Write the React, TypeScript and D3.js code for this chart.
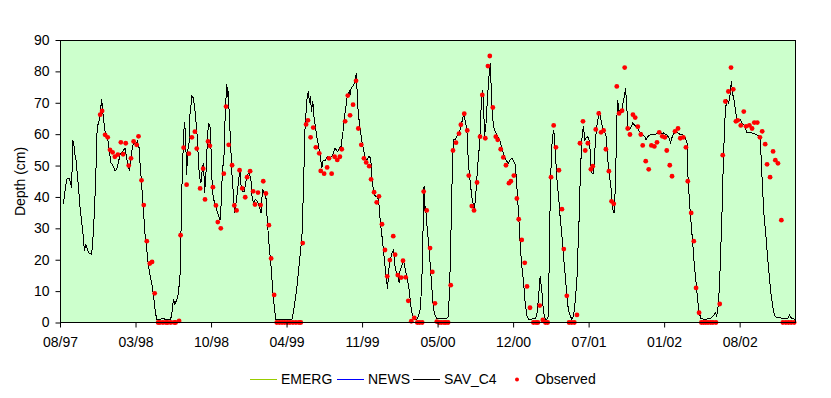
import React, { useEffect, useRef } from "react";
import * as d3 from "d3";

// days counted from the first axis tick (27 Aug 1997)
const START = new Date(Date.UTC(1997, 7, 27));
const END_DAY = 1959;
const TICK_STEP_DAYS = 201;
const TICK_COUNT = 10;
const DEPTH_TICKS = [0, 10, 20, 30, 40, 50, 60, 70, 80, 90];

const SERIES_NAMES = ["EMERG", "NEWS", "SAV_C4"];
const SERIES_COLORS = ["#99cc00", "#0000ff", "#000000"];

// modelled depth (cm) - EMERG and NEWS lie under SAV_C4 in the picture
const SAV_C4: [number, number][] = [
  [9, 37.9], [15, 43.4], [18, 45.7], [24, 46], [28, 44.5], [31, 42.9], [34, 58.2], [37, 56.6],
  [39, 54], [43, 51.4], [49, 43.4], [53, 37], [58, 31.8], [62, 27.5], [65, 22.8], [69, 24.9],
  [73, 23.3], [78, 22], [84, 21.7], [87, 25.4], [91, 33.9], [95, 45.5], [99, 62.5], [103, 63.5],
  [107, 66.7], [111, 71.2], [115, 65.6], [120, 60.9], [124, 59.8], [129, 57.2], [133, 53],
  [136, 50.8], [142, 49.8], [146, 48.5], [151, 48.7], [155, 50.8], [160, 53.5], [167, 54.5],
  [173, 55.6], [179, 51.4], [185, 48.2], [188, 51.9], [193, 56.1], [197, 57.2], [202, 56.6],
  [206, 57.7], [209, 56.1], [211, 55.6], [213, 50.8], [217, 44.5], [222, 36], [226, 28.6],
  [231, 23.3], [235, 18.5], [240, 14.8], [244, 12.7], [249, 8.5], [253, 4.2], [257, 1.1],
  [266, 1], [275, 1.3], [284, 0.8], [293, 0.8], [297, 2.1], [302, 7.4], [306, 5.8], [311, 7.4],
  [315, 9], [320, 15.9], [324, 41.3], [328, 56.1], [331, 64], [334, 60.4], [337, 47.1], [340, 55],
  [343, 56], [346, 66.2], [351, 72], [355, 71.5], [359, 67.8], [364, 61.4], [368, 53], [371, 46.6],
  [375, 44.5], [379, 49.2], [382, 50.8], [385, 41.3], [389, 48.7], [392, 57.2], [395, 63.5],
  [399, 63], [402, 55], [405, 44], [408, 39.7], [413, 37.6], [417, 36], [422, 33.9], [426, 32.8],
  [429, 38], [432, 47.6], [437, 54], [440, 67.8], [444, 76], [446, 72], [448, 73.6], [451, 64.6],
  [454, 57.2], [458, 46.6], [462, 40.2], [465, 34.9], [468, 37.6], [472, 41.3], [476, 46],
  [479, 48.7], [482, 43.4], [486, 41.8], [491, 41.8], [494, 44.5], [499, 47.1], [503, 47.6],
  [508, 46], [511, 40.2], [515, 38], [520, 39.2], [525, 38.6], [529, 37.6], [535, 34.9],
  [539, 42.4], [543, 41.3], [548, 40.2], [551, 33.9], [556, 25.4], [561, 19], [566, 10.6],
  [571, 4.2], [575, 0.8], [590, 0.8], [605, 0.8], [617, 0.8], [621, 3.2], [630, 10.6], [637, 19],
  [644, 27.5], [648, 42.4], [652, 61.4], [657, 70.9], [661, 73.6], [664, 69.9], [667, 72],
  [669, 67.2], [673, 70.4], [676, 65.6], [681, 61.4], [685, 58.2], [690, 55], [697, 49.2],
  [699, 51.4], [706, 51.6], [712, 52.9], [717, 52.4], [723, 52.9], [728, 54], [732, 55.6],
  [735, 55], [739, 54.5], [744, 55.6], [748, 56.1], [753, 60.4], [756, 64.6], [761, 68.8],
  [765, 72.5], [770, 73.6], [772, 72.5], [775, 74.6], [779, 75.2], [783, 76.2], [786, 77.8],
  [789, 79.4], [792, 69.9], [795, 65.6], [799, 61.4], [803, 58.2], [808, 55], [812, 52.4],
  [817, 51.9], [822, 52.9], [827, 52.4], [830, 46.6], [834, 42.4], [839, 40.2], [843, 40.2],
  [848, 39.2], [852, 32.8], [857, 27.5], [861, 22.8], [865, 18], [870, 12.7], [872, 10.6],
  [875, 16.9], [879, 20.1], [884, 22.2], [888, 23.3], [890, 19], [895, 15.9], [899, 14.8],
  [903, 12.7], [905, 16.4], [910, 18], [914, 20.1], [919, 16.9], [923, 14.8], [928, 11.6],
  [932, 7.4], [936, 3.2], [941, 1.6], [945, 1], [950, 1], [954, 2.1], [959, 4.2], [963, 12.7],
  [966, 27.5], [968, 40.2], [969, 43.4], [970, 35.5], [973, 37], [976, 31.8], [981, 25.4],
  [985, 19], [990, 10.6], [994, 4.2], [999, 2.1], [1003, 1.3], [1012, 1.1], [1021, 1.3],
  [1030, 1.3], [1034, 2.1], [1039, 19], [1043, 42.4], [1047, 58.2], [1052, 58.2], [1056, 59.3],
  [1061, 60.4], [1065, 61.4], [1070, 64], [1074, 66.2], [1078, 64.6], [1083, 61.4], [1087, 50.8],
  [1092, 44.5], [1096, 40.2], [1101, 37], [1103, 36], [1107, 41.3], [1111, 48.7], [1117, 57.2],
  [1121, 68.8], [1125, 74.1], [1127, 70.9], [1130, 59.3], [1134, 63.5], [1138, 72], [1141, 77.3],
  [1145, 82.6], [1148, 74.1], [1151, 65.6], [1156, 61.4], [1160, 60.4], [1165, 59.3],
  [1170, 58.2], [1174, 56.6], [1179, 54.5], [1183, 52.9], [1188, 51.4], [1194, 50.8],
  [1198, 51.9], [1203, 52.4], [1207, 51.4], [1212, 50.3], [1216, 43.4], [1221, 33.9],
  [1225, 24.4], [1229, 18], [1234, 12.7], [1238, 6.4], [1243, 2.1], [1247, 1.1], [1256, 1.1],
  [1265, 1.3], [1269, 2.1], [1274, 8.5], [1278, 14.8], [1283, 9.5], [1287, 3.2], [1292, 1.1],
  [1296, 1], [1300, 2.1], [1303, 27.5], [1306, 46.6], [1310, 58.2], [1314, 61.4], [1316, 59.3],
  [1319, 53], [1322, 46.6], [1327, 40.2], [1331, 33.9], [1336, 27.5], [1340, 21.2], [1345, 14.8],
  [1349, 8.5], [1353, 4.2], [1358, 2.1], [1362, 1.1], [1367, 2.1], [1371, 6.4], [1376, 13.8],
  [1378, 21.2], [1382, 33.9], [1385, 47.6], [1389, 58.2], [1393, 62.5], [1397, 58.2],
  [1400, 58.8], [1404, 59.3], [1408, 58.2], [1411, 55], [1414, 48.7], [1416, 47.6], [1420, 47.6],
  [1423, 53], [1425, 58.2], [1429, 62.5], [1433, 65.6], [1436, 66.7], [1440, 64.6], [1444, 61.9],
  [1448, 61.4], [1454, 59.3], [1457, 53], [1461, 48.7], [1464, 45.5], [1468, 41.3], [1471, 36],
  [1475, 34.9], [1479, 45.5], [1481, 60.4], [1484, 70.9], [1487, 68.8], [1488, 66.7],
  [1491, 67.8], [1494, 66.7], [1497, 68.8], [1500, 70.9], [1503, 72.5], [1505, 74.6], [1507, 72],
  [1510, 65.6], [1512, 61.4], [1516, 61.4], [1519, 61.9], [1524, 63.5], [1528, 63], [1533, 62.5],
  [1537, 62], [1542, 60.9], [1547, 60.4], [1551, 59.8], [1556, 59.3], [1560, 58.2], [1565, 59.3],
  [1571, 59.8], [1580, 59.8], [1589, 60.1], [1598, 60.1], [1606, 60.4], [1615, 59.8],
  [1621, 58.8], [1625, 57.4], [1630, 59.3], [1635, 60.4], [1640, 61], [1645, 60.4], [1651, 59.8],
  [1658, 59.8], [1664, 59.1], [1669, 57.2], [1671, 47.6], [1675, 39.2], [1679, 32.8],
  [1684, 25.4], [1688, 19], [1693, 12.7], [1697, 7.4], [1701, 3.2], [1706, 1.3], [1713, 1.1],
  [1722, 1.1], [1731, 1.3], [1735, 1.6], [1740, 2.3], [1744, 3.2], [1748, 2.1], [1753, 6.4],
  [1757, 16.9], [1762, 34.9], [1766, 53], [1771, 67.8], [1775, 70.9], [1780, 69.9], [1784, 73],
  [1787, 76.8], [1791, 72.5], [1795, 70.4], [1798, 67.2], [1802, 64.6], [1806, 64], [1811, 64.6],
  [1815, 63.7], [1819, 63], [1824, 62.5], [1828, 60.4], [1833, 60.4], [1842, 60.4], [1850, 60.1],
  [1855, 59.8], [1859, 59.5], [1864, 58.2], [1866, 53], [1870, 42.4], [1874, 33.9], [1879, 27.5],
  [1883, 21.2], [1888, 14.8], [1892, 9.5], [1897, 5.3], [1901, 2.6], [1906, 1.6], [1913, 1.6],
  [1922, 1.3], [1930, 1.3], [1937, 1.3], [1942, 2.3], [1945, 1.5], [1951, 1.3], [1957, 0.8],
];

// field measurements (cm)
const OBSERVED: [number, number][] = [
  [107, 66.2], [112, 67.4], [120, 59.8], [127, 59], [133, 55], [140, 54.2], [146, 52.8],
  [154, 53.5], [162, 57.4], [168, 53.6], [175, 57.1], [183, 50], [189, 52.3], [196, 57.7],
  [204, 56.6], [209, 59.3], [217, 45.3], [223, 37.4], [231, 25.9], [239, 18.8], [245, 19.3],
  [252, 9.3], [261, 0], [266, 0], [274, 0], [282, 0], [287, 0], [295, 0], [304, 0], [308, 0],
  [317, 0.5], [321, 27.8], [329, 55.7], [337, 43.9], [343, 53.8], [351, 59], [359, 60.8],
  [364, 55.4], [373, 42.7], [381, 49], [386, 39.2], [394, 57.7], [399, 56.3], [407, 43.1],
  [415, 37.3], [420, 32], [428, 30], [436, 47.4], [442, 68.8], [449, 56.6], [458, 50.1],
  [464, 37.3], [470, 35.7], [478, 48.5], [485, 42.7], [493, 39.9], [498, 46.3], [506, 48.2],
  [514, 41.8], [519, 37.6], [527, 41.4], [534, 37.4], [541, 45], [548, 41.1], [556, 31],
  [562, 20.4], [570, 8.8], [577, 0], [584, 0], [591, 0], [598, 0], [605, 0], [612, 0], [620, 0],
  [628, 0], [636, 0], [641, 0], [646, 25.3], [655, 63.1], [660, 64.4], [667, 59], [674, 62.1],
  [681, 55.8], [690, 53.9], [694, 48.3], [703, 47.4], [711, 49.4], [716, 52.3], [723, 47.4],
  [731, 52.8], [738, 51.8], [745, 52.8], [750, 55.2], [759, 64.1], [766, 72.3], [772, 66],
  [780, 69.4], [788, 77], [794, 61.8], [802, 56.6], [809, 52.3], [815, 51], [823, 49.8],
  [828, 45.6], [836, 41.5], [843, 38.3], [849, 40.2], [857, 31.3], [865, 23.1], [871, 14.7],
  [878, 19.9], [887, 27.5], [892, 21.6], [899, 15.1], [908, 14.3], [913, 19.7], [920, 14.4],
  [927, 6.9], [935, 0.4], [943, 1.5], [951, 0], [957, 0], [964, 0], [968, 41.7], [976, 35.7],
  [985, 23.7], [991, 16.1], [998, 6.1], [1003, 0.3], [1009, 0], [1015, 0], [1022, 0], [1027, 0],
  [1033, 0], [1040, 11.9], [1046, 54.8], [1054, 57.3], [1062, 60.2], [1067, 63], [1076, 66.5],
  [1084, 61.2], [1088, 46.8], [1096, 37.1], [1102, 35.7], [1110, 44.6], [1118, 59.2],
  [1124, 72.5], [1132, 58.7], [1139, 81.7], [1144, 84.9], [1152, 68.5], [1160, 59.2],
  [1165, 58.2], [1173, 55.2], [1180, 52.6], [1187, 50.1], [1195, 44.4], [1200, 45], [1208, 46.8],
  [1216, 39.5], [1221, 32.9], [1229, 26.3], [1237, 19], [1243, 11.5], [1251, 4.7], [1260, 0],
  [1267, 0], [1272, 0], [1277, 5.4], [1285, 0.8], [1292, 0], [1298, 0], [1307, 46.3],
  [1314, 62.8], [1320, 55.8], [1328, 48.5], [1336, 36.1], [1341, 23.4], [1349, 8.5], [1355, 0],
  [1362, 0], [1369, 0], [1376, 2.4], [1384, 57.1], [1392, 64.1], [1398, 54.8], [1405, 57.1],
  [1413, 48.8], [1418, 49.8], [1426, 61.5], [1434, 66.6], [1440, 60.6], [1447, 61.2],
  [1453, 55.2], [1461, 48.2], [1468, 38.6], [1474, 37.8], [1482, 75.2], [1488, 66.6],
  [1496, 67.5], [1503, 81.2], [1511, 61.8], [1517, 59.9], [1525, 66.2], [1531, 65.3],
  [1538, 62.4], [1546, 59.9], [1551, 56.4], [1559, 51.4], [1567, 48.8], [1574, 56.4],
  [1582, 56.1], [1589, 57.4], [1595, 60.6], [1603, 59.3], [1610, 59], [1615, 54.8], [1623, 50.1],
  [1629, 46.6], [1637, 60.9], [1645, 61.8], [1651, 58.7], [1659, 59], [1666, 55.8], [1671, 45],
  [1680, 34.9], [1687, 25.9], [1693, 11], [1701, 3.1], [1707, 0], [1713, 0], [1719, 0],
  [1725, 0], [1732, 0], [1738, 0], [1746, 0], [1756, 5.9], [1764, 53.3], [1771, 70.4],
  [1779, 73.6], [1786, 81.2], [1792, 74.3], [1799, 64.1], [1804, 64.4], [1812, 62.8],
  [1820, 67.2], [1826, 62.5], [1835, 62.8], [1842, 61.8], [1848, 63.7], [1856, 63.7], [1863, 59],
  [1869, 60.9], [1877, 56.8], [1882, 50.4], [1890, 46.3], [1898, 54.5], [1904, 51.7],
  [1911, 50.7], [1920, 32.6], [1924, 0], [1932, 0], [1939, 0], [1946, 0], [1954, 0],
];

const FONT = "'Liberation Sans', Arial, sans-serif";

export default function App() {
  const ref = useRef<SVGSVGElement>(null);
  const width = 831;
  const height = 398;

  useEffect(() => {
    const margin = { top: 40, right: 35, bottom: 75, left: 60 };
    const svg = d3.select(ref.current).attr("width", width).attr("height", height);
    svg.selectAll("*").remove();

    const day = (d: number) => d3.utcDay.offset(START, d);

    const x = d3
      .scaleUtc()
      .domain([START, day(END_DAY)])
      .range([margin.left, width - margin.right]);

    const y = d3
      .scaleLinear()
      .domain([0, 90])
      .range([height - margin.bottom - 0.5, margin.top]);

    const innerW = width - margin.left - margin.right;
    const innerH = height - margin.bottom - margin.top;

    // plot background
    svg
      .append("rect")
      .attr("x", margin.left)
      .attr("y", margin.top)
      .attr("width", innerW)
      .attr("height", innerH)
      .attr("fill", "#ccffcc");

    const line = d3
      .line<[number, number]>()
      .x((d) => x(day(d[0])))
      .y((d) => y(d[1]));

    // EMERG / NEWS / SAV_C4 overlap, black one drawn last
    SERIES_NAMES.forEach((name, i) => {
      svg
        .append("path")
        .datum(SAV_C4)
        .attr("class", name)
        .attr("d", line)
        .attr("fill", "none")
        .attr("stroke", SERIES_COLORS[i])
        .attr("stroke-width", 1)
        .attr("shape-rendering", "crispEdges");
    });

    // observed points
    svg
      .selectAll(".obs")
      .data(OBSERVED)
      .join("circle")
      .attr("class", "obs")
      .attr("cx", (d) => x(day(d[0])))
      .attr("cy", (d) => y(d[1]))
      .attr("r", 2.4)
      .attr("fill", "#ff0000");

    // border of the plot area
    svg
      .append("rect")
      .attr("x", margin.left + 0.5)
      .attr("y", margin.top + 0.5)
      .attr("width", innerW - 1)
      .attr("height", innerH - 1)
      .attr("fill", "none")
      .attr("stroke", "#000");

    // axes
    const xTicks = d3.range(TICK_COUNT).map((i) => day(i * TICK_STEP_DAYS));
    const xAxis = svg
      .append("g")
      .attr("transform", `translate(0,${height - margin.bottom - 0.5})`)
      .call(
        d3
          .axisBottom(x)
          .tickValues(xTicks)
          .tickFormat((d) => d3.utcFormat("%m/%y")(d as Date))
          .tickSize(5)
          .tickPadding(10)
      );

    const yAxis = svg
      .append("g")
      .attr("transform", `translate(${margin.left + 0.5},0)`)
      .call(d3.axisLeft(y).tickValues(DEPTH_TICKS).tickSize(5).tickPadding(6));

    [xAxis, yAxis].forEach((g) => {
      g.select(".domain").remove();
      g.selectAll("line").attr("stroke", "#000");
      g.selectAll("text")
        .attr("fill", "#000")
        .attr("font-family", FONT)
        .attr("font-size", "14px");
    });

    // axis title
    svg
      .append("text")
      .attr("transform", `translate(25, ${(margin.top + height - margin.bottom) / 2}) rotate(-90)`)
      .attr("text-anchor", "middle")
      .attr("font-family", FONT)
      .attr("font-size", "14px")
      .attr("fill", "#000")
      .text("Depth (cm)");

    // legend
    const lg = svg.append("g").attr("transform", "translate(250,379)");
    const lineStarts = [0, 87, 163];
    SERIES_NAMES.forEach((name, i) => {
      lg.append("line")
        .attr("x1", lineStarts[i])
        .attr("x2", lineStarts[i] + 27)
        .attr("y1", 0.5)
        .attr("y2", 0.5)
        .attr("stroke", SERIES_COLORS[i])
        .attr("stroke-width", 1);
      lg.append("text")
        .attr("x", lineStarts[i] + 31)
        .attr("y", 5)
        .attr("font-family", FONT)
        .attr("font-size", "14px")
        .attr("fill", "#000")
        .text(name);
    });
    lg.append("circle").attr("cx", 267).attr("cy", 0.5).attr("r", 2).attr("fill", "#ff0000");
    lg.append("text")
      .attr("x", 285)
      .attr("y", 5)
      .attr("font-family", FONT)
      .attr("font-size", "14px")
      .attr("fill", "#000")
      .text("Observed");
  }, []);

  return (
    <svg
      ref={ref}
      style={{ position: "absolute", left: 0, top: 0, background: "#fff" }}
    />
  );
}
